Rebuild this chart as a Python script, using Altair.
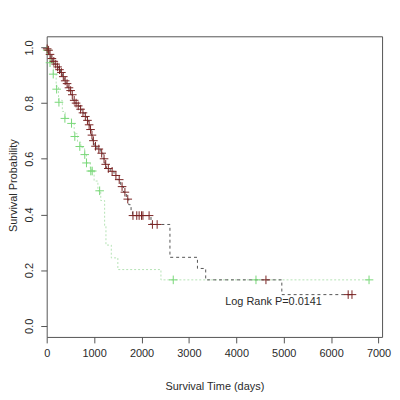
import altair as alt
import pandas as pd

# ---- data ----
red_t = [0, 20, 50, 90, 130, 170, 210, 250, 290, 330, 370, 410, 450, 490, 520, 550, 600, 640,
         690, 740, 790, 840, 880, 910, 940, 965, 1000, 1060, 1130, 1190, 1230, 1260, 1340, 1420,
         1500, 1560, 1620, 1680, 1730, 1780, 1810, 2200, 2600, 3180, 3354, 4960, 6440]
red_s = [1.0, 0.99, 0.975, 0.96, 0.95, 0.94, 0.93, 0.92, 0.91, 0.895, 0.88, 0.87, 0.855, 0.845,
         0.83, 0.81, 0.80, 0.79, 0.778, 0.765, 0.752, 0.738, 0.722, 0.705, 0.685, 0.665, 0.645,
         0.635, 0.62, 0.60, 0.58, 0.565, 0.555, 0.54, 0.525, 0.50, 0.48, 0.455, 0.435, 0.415,
         0.396, 0.364, 0.246, 0.206, 0.165, 0.112, 0.112]

red_cens_t = [10, 40, 70, 110, 150, 190, 230, 270, 310, 350, 390, 430, 470, 505, 540, 580, 620,
              665, 715, 765, 815, 860, 895, 925, 955, 985, 1030, 1100, 1160, 1210, 1245, 1300,
              1380, 1460, 1530, 1590, 1650, 1710, 1820, 1900, 1950, 2000, 2030, 2160, 2230,
              2330, 4625, 6360, 6440]
red_cens_s = [0.995, 0.99, 0.975, 0.96, 0.95, 0.94, 0.93, 0.92, 0.91, 0.895, 0.88, 0.87, 0.855,
              0.845, 0.83, 0.81, 0.80, 0.79, 0.778, 0.765, 0.752, 0.738, 0.722, 0.705, 0.685,
              0.665, 0.645, 0.635, 0.62, 0.60, 0.58, 0.565, 0.555, 0.54, 0.525, 0.50, 0.48,
              0.455, 0.396, 0.396, 0.396, 0.396, 0.396, 0.396, 0.364, 0.364, 0.165, 0.112, 0.112]

green_t = [0, 40, 80, 140, 200, 250, 330, 390, 520, 580, 650, 720, 800, 840, 920, 1000, 1080,
           1140, 1222, 1250, 1363, 1501, 2410, 6800]
green_s = [1.0, 0.97, 0.945, 0.905, 0.86, 0.81, 0.77, 0.745, 0.727, 0.69, 0.66, 0.64, 0.615,
           0.585, 0.56, 0.52, 0.485, 0.45, 0.36, 0.29, 0.244, 0.202, 0.165, 0.165]

green_cens_t = [10, 70, 138, 210, 258, 384, 524, 593, 698, 803, 839, 930, 960, 1117, 2670, 4415, 6800]
green_cens_s = [0.99, 0.945, 0.904, 0.85, 0.803, 0.745, 0.727, 0.68, 0.644, 0.615, 0.585, 0.556,
                0.556, 0.485, 0.165, 0.165, 0.165]

x_ticks = [0, 1000, 2000, 3000, 4000, 5000, 6000, 7000]
y_ticks = [0.0, 0.2, 0.4, 0.6, 0.8, 1.0]
p_label = ["Log Rank P=0.0141"]
p_t = [4786]
p_s = [0.085]

# ---- frames ----
red_df = pd.DataFrame({"t": red_t, "s": red_s})
red_c = pd.DataFrame({"t": red_cens_t, "s": red_cens_s})
green_df = pd.DataFrame({"t": green_t, "s": green_s})
green_c = pd.DataFrame({"t": green_cens_t, "s": green_cens_s})
txt_df = pd.DataFrame({"t": p_t, "s": p_s, "label": p_label})

FONT = "Liberation Sans"
TXT = "#2a2a2a"

x_enc = alt.X("t:Q",
              scale=alt.Scale(domain=[0, 7075], nice=False, zero=False),
              axis=alt.Axis(values=x_ticks, format="d", title="Survival Time (days)", grid=False,
                            domain=False, tickSize=6, tickColor="#555", labelPadding=5,
                            labelFontSize=11, labelColor=TXT, labelFont=FONT,
                            labelOverlap=False, labelFlush=False,
                            titleFont=FONT, titleFontSize=11, titleFontWeight="normal",
                            titleColor=TXT, titleY=44, titleBaseline="top"))
y_enc = alt.Y("s:Q",
              scale=alt.Scale(domain=[-0.04, 1.04], nice=False, zero=False),
              axis=alt.Axis(values=y_ticks, format=".1f", title="Survival Probability",
                            grid=False, domain=False, tickSize=6, tickColor="#555",
                            labelAngle=-90, labelAlign="center", labelBaseline="bottom",
                            labelPadding=6, labelFontSize=11, labelColor=TXT, labelFont=FONT,
                            labelOverlap=False, labelFlush=False,
                            titleFont=FONT, titleFontSize=11, titleFontWeight="normal",
                            titleColor=TXT, titleAngle=-90, titleX=-33, titleY=150,
                            titleAlign="center", titleBaseline="middle"))

plus = "M-1,0L1,0M0,-1L0,1"

green_line = alt.Chart(green_df).mark_line(
    interpolate="step-after", color="#b5e3b5", strokeWidth=1, strokeDash=[2, 2]
).encode(x=x_enc, y=y_enc)

red_line = alt.Chart(red_df).mark_line(
    interpolate="step-after", color="#555555", strokeWidth=1, strokeDash=[3, 3]
).encode(x=x_enc, y=y_enc)

green_pts = alt.Chart(green_c).mark_point(
    shape=plus, size=75, filled=False, color="#78d878", strokeWidth=1, opacity=1
).encode(x=x_enc, y=y_enc)

red_pts = alt.Chart(red_c).mark_point(
    shape=plus, size=75, filled=False, color="#7a2424", strokeWidth=1, opacity=1
).encode(x=x_enc, y=y_enc)

txt = alt.Chart(txt_df).mark_text(
    font=FONT, fontSize=11, color=TXT, align="center", baseline="middle"
).encode(x=x_enc, y=y_enc, text="label:N")

chart = alt.layer(green_line, red_line, green_pts, red_pts, txt).properties(
    width=338, height=303,
    autosize=alt.AutoSizeParams(type="none"),
    padding={"left": 39, "top": 27, "right": 10, "bottom": 56},
    background="white",
).configure_view(stroke="#555555", strokeWidth=1)

chart.save("out.html", embed_options={"renderer": "svg", "actions": False})
